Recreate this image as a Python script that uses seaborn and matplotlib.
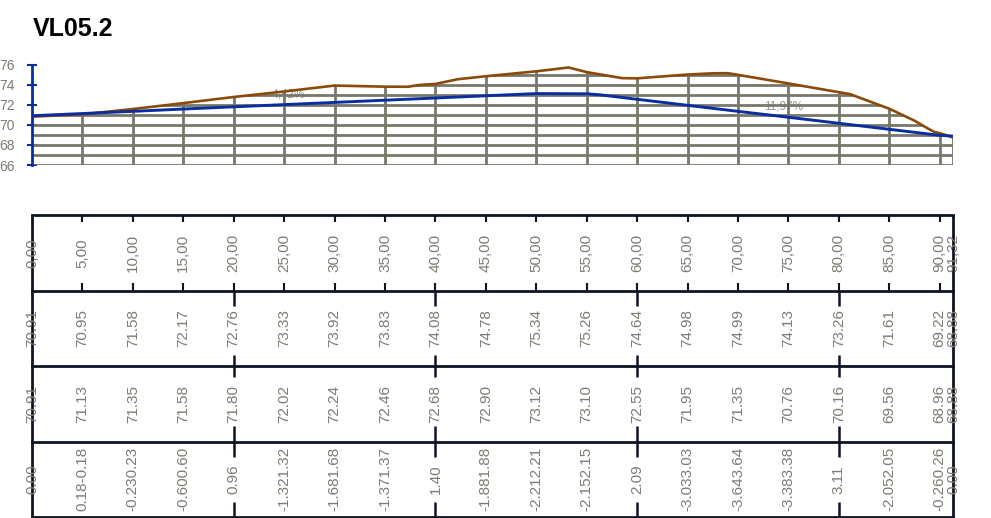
"""
Longitudinal profile VL05.2 - terrain vs design line, with station table below
"""

import numpy as np
import matplotlib
matplotlib.use("Agg")
import matplotlib.pyplot as plt
from matplotlib.patches import Polygon
import seaborn as sns

# ─────────────────────────────────────────────
# Data
# ─────────────────────────────────────────────
TITLE = "VL05.2"

stations = [0, 5, 10, 15, 20, 25, 30, 35, 40, 45, 50, 55, 60, 65, 70, 75, 80, 85, 90, 91.32]
station_labels = ["0,00", "5,00", "10,00", "15,00", "20,00", "25,00", "30,00", "35,00",
                  "40,00", "45,00", "50,00", "55,00", "60,00", "65,00", "70,00", "75,00",
                  "80,00", "85,00", "90,00", "91,32"]
terrain_labels = ["70.91", "70.95", "71.58", "72.17", "72.76", "73.33", "73.92", "73.83",
                  "74.08", "74.78", "75.34", "75.26", "74.64", "74.98", "74.99", "74.13",
                  "73.26", "71.61", "69.22", "68.88"]
design_labels = ["70.91", "71.13", "71.35", "71.58", "71.80", "72.02", "72.24", "72.46",
                 "72.68", "72.90", "73.12", "73.10", "72.55", "71.95", "71.35", "70.76",
                 "70.16", "69.56", "68.96", "68.88"]
diff_labels = ["0.00", "0.18-0.18", "-0.230.23", "-0.600.60", "0.96", "-1.321.32",
               "-1.681.68", "-1.371.37", "1.40", "-1.881.88", "-2.212.21", "-2.152.15",
               "2.09", "-3.033.03", "-3.643.64", "-3.383.38", "3.11", "-2.052.05",
               "-0.260.26", "0.00"]

# terrain polyline
terrain_sta = [0, 5, 10, 15, 20, 23.1, 25, 30, 35, 37.3, 38.3, 40, 42.2, 45, 50, 53.2,
               55, 58.5, 60, 65, 67.7, 69, 70, 75, 80, 81.1, 85, 87.5, 88.9, 89.5, 90, 91.32]
terrain_elev = [70.82, 71.05, 71.58, 72.17, 72.78, 73.12, 73.33, 73.92, 73.81, 73.80,
                73.97, 74.08, 74.55, 74.85, 75.34, 75.72, 75.26, 74.66, 74.64, 75.02,
                75.15, 75.15, 74.99, 74.13, 73.26, 73.07, 71.61, 70.42, 69.60, 69.28,
                69.18, 68.75]

# design line
design_sta = [0, 5, 10, 15, 20, 25, 30, 35, 40, 45, 50, 55, 56.3, 60, 65, 70, 75, 80,
              85, 90, 91.32]
design_elev = [70.91, 71.13, 71.35, 71.58, 71.80, 72.02, 72.24, 72.46, 72.68, 72.90,
               73.12, 73.10, 73.00, 72.55, 71.95, 71.35, 70.76, 70.16, 69.56, 68.96, 68.88]

grade_labels = ["4,42%", "11,97%"]
grade_pos = [(25.4, 72.98), (74.5, 71.81)]

y_ticks = [66, 68, 70, 72, 74, 76]

# ─────────────────────────────────────────────
# Style
# ─────────────────────────────────────────────
sns.set_theme(style="white")
plt.rcParams["font.family"] = ["Liberation Sans", "DejaVu Sans"]

GRID_C = "#77776a"
TEXT_C = "#7c7c72"
BROWN = "#8c4a08"
BLUE = "#0a2ea0"
DARK = "#0d1424"

fig = plt.figure(figsize=(9.91, 5.18), dpi=100)
W, H = 991, 518
x0, x1 = 32, 953

fig.text(33 / W, 1 - 36.5 / H, TITLE, fontsize=18, fontweight="bold", color="black")

# ─────────────────────────────────────────────
# Profile
# ─────────────────────────────────────────────
ax = fig.add_axes([x0 / W, 1 - 165 / H, (x1 - x0) / W, 100.3 / H])
ax.set_xlim(0, stations[-1])
ax.set_ylim(66, 76)

# grid only under the terrain
poly_xy = list(zip(terrain_sta, terrain_elev))
poly_xy = poly_xy + [(stations[-1] + 0.3, terrain_elev[-1]), (stations[-1] + 0.3, 65.5), (0, 65.5)]
clip = Polygon(poly_xy, closed=True, transform=ax.transData, facecolor="none", edgecolor="none")
ax.add_patch(clip)

for e in range(66, 77):
    ln = ax.axhline(e, color=GRID_C, lw=2.0, zorder=1)
    ln.set_clip_path(clip)
for s in stations[1:]:
    ln = ax.axvline(s, color=GRID_C, lw=2.0, zorder=1)
    ln.set_clip_path(clip)

for txt, (gx, gy) in zip(grade_labels, grade_pos):
    ax.text(gx, gy, txt, fontsize=8.5, color="#959595", ha="center", va="center", zorder=0.5)

sns.lineplot(x=terrain_sta, y=terrain_elev, ax=ax, color=BROWN, lw=1.9, sort=False,
             estimator=None, zorder=3)
sns.lineplot(x=design_sta, y=design_elev, ax=ax, color=BLUE, lw=2.1, sort=False,
             estimator=None, zorder=4)

for sp in ["top", "right", "bottom"]:
    ax.spines[sp].set_visible(False)
ax.spines["left"].set_color(BLUE)
ax.spines["left"].set_linewidth(2.0)
ax.spines["left"].set_bounds(66, 76)
ax.spines["left"].set_zorder(5)
ax.set_xticks([])
ax.set_yticks(y_ticks)
ax.set_yticklabels([str(t) for t in y_ticks])
ax.tick_params(axis="y", direction="inout", length=7.5, width=1.5, color=BLUE,
               labelcolor=TEXT_C, labelsize=10, pad=8.5, left=True)
ax.set_xlabel("")
ax.set_ylabel("")
ax.set_facecolor("none")

# ─────────────────────────────────────────────
# Table
# ─────────────────────────────────────────────
tb = fig.add_axes([x0 / W, 1 - 517 / H, (x1 - x0) / W, 302 / H])
tb.set_xlim(0, stations[-1])
tb.set_ylim(0, 4)
tb.axis("off")

for yy in [0, 1, 2, 3, 4]:
    tb.plot([0, stations[-1]], [yy, yy], color=DARK, lw=2.0, clip_on=False, solid_capstyle="projecting")
tb.vlines([0, stations[-1]], 0, 4, color=DARK, lw=2.0, clip_on=False)

# short ticks in the station row
small = 0.093
inner = [s for s in stations[1:-1]]
tb.vlines(inner, 4 - small, 4, color=DARK, lw=1.5)
tb.vlines(inner, 3, 3 + small, color=DARK, lw=1.5)

# longer ticks every 20 m in the lower rows
major = [20, 40, 60, 80]
for s in major:
    segs = [(2.8, 3.0), (2.0, 2.15), (1.85, 2.0), (1.0, 1.2), (0.8, 1.0), (0.0, 0.2)]
    for a, b in segs:
        tb.vlines(s, a, b, color=DARK, lw=1.8, clip_on=False)

rows = [(3.5, station_labels), (2.5, terrain_labels), (1.5, design_labels), (0.5, diff_labels)]
for yc, labels in rows:
    for s, lab in zip(stations, labels):
        tb.text(s, yc, lab, rotation=90, ha="center", va="center", fontsize=11, color=TEXT_C)

fig.savefig("out.png", dpi=100)
plt.close(fig)
